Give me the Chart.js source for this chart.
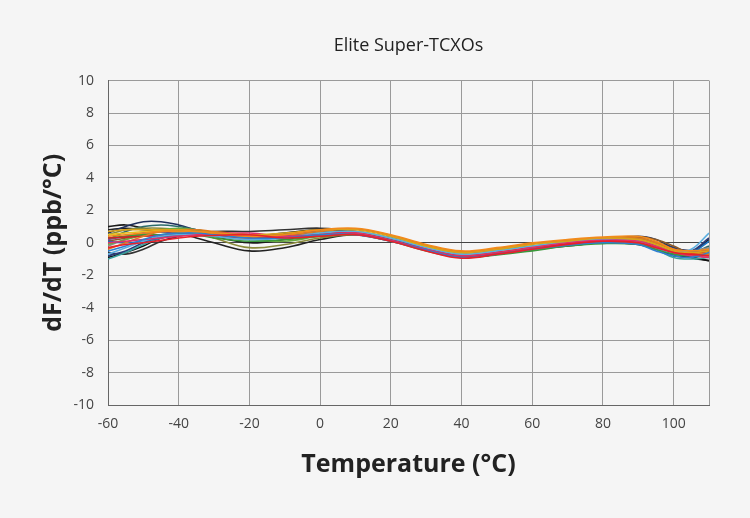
<!DOCTYPE html>
<html>
<head>
<meta charset="utf-8">
<script src="https://cdn.jsdelivr.net/npm/chart.js@4"></script>
<style>
  html, body { margin: 0; padding: 0; background: #f5f5f5; }
  #wrap { width: 750px; height: 518px; }
</style>
</head>
<body>
<div id="wrap"><canvas id="myChart" width="750" height="518"></canvas></div>
<script>
let temps = [-60,-55,-50,-45,-40,-35,-30,-20,-10,0,10,20,30,40,50,60,70,80,90,95,100,105,110];

// dF/dT (ppb/°C), one list per unit
let series = [
  [-0.3,-0.1,0.0,0.15,0.3,0.4,0.45,0.5,0.3,0.4,0.5,0.1,-0.5,-0.95,-0.7,-0.4,-0.1,0.1,0.0,-0.3,-0.6,-0.7,-0.8],
  [0.4,0.5,0.6,0.7,0.7,0.7,0.6,0.4,0.5,0.8,0.9,0.5,-0.1,-0.5,-0.3,0.0,0.2,0.35,0.4,0.1,-0.4,-0.5,-0.4],
  [-0.5,-0.2,0.2,0.5,0.6,0.6,0.5,0.3,0.3,0.5,0.5,0.1,-0.45,-0.9,-0.7,-0.4,-0.15,0.0,-0.1,-0.5,-0.8,-0.9,-0.6],
  [0.7,0.8,0.8,0.8,0.8,0.7,0.6,0.5,0.6,0.8,0.8,0.4,-0.2,-0.6,-0.4,-0.1,0.1,0.3,0.2,-0.1,-0.5,-0.6,-0.5],
  [0.0,0.1,0.2,0.3,0.4,0.5,0.55,0.6,0.4,0.5,0.6,0.15,-0.4,-0.8,-0.6,-0.3,0.0,0.15,0.1,-0.2,-0.6,-0.8,-0.9],
  [-0.7,-0.3,0.1,0.4,0.5,0.5,0.4,0.2,0.3,0.6,0.7,0.3,-0.3,-0.7,-0.5,-0.2,0.05,0.2,0.1,-0.3,-0.6,-0.4,0.6],
  [-0.4,0.0,0.4,0.7,0.8,0.8,0.7,0.5,0.5,0.7,0.85,0.45,-0.15,-0.55,-0.35,-0.05,0.15,0.3,0.3,0.0,-0.4,-0.6,-0.7],
  [0.3,0.35,0.4,0.45,0.5,0.5,0.45,0.3,0.35,0.55,0.6,0.15,-0.45,-0.85,-0.6,-0.3,-0.05,0.1,0.05,-0.25,-0.6,-0.7,-0.5],
  [0.5,0.6,0.7,0.75,0.7,0.6,0.5,0.3,0.35,0.6,0.7,0.3,-0.25,-0.7,-0.5,-0.25,0.05,0.25,0.2,-0.1,-0.45,-0.65,-0.6],
  [0.1,0.0,0.1,0.3,0.5,0.6,0.6,0.5,0.5,0.65,0.65,0.25,-0.35,-0.8,-0.6,-0.3,-0.05,0.15,0.15,-0.15,-0.5,-0.6,0.1],
  [0.3,0.4,0.5,0.5,0.6,0.5,0.3,0.1,0.2,0.4,0.5,0.1,-0.5,-0.9,-0.75,-0.5,-0.2,-0.05,-0.1,-0.4,-0.7,-0.8,-0.6],
  [0.2,0.4,0.6,0.7,0.6,0.5,0.5,0.4,0.45,0.6,0.7,0.3,-0.2,-0.65,-0.5,-0.25,0.05,0.2,0.15,-0.1,-0.45,-0.55,-0.5],
  [-1.0,-0.6,-0.1,0.3,0.5,0.5,0.4,0.3,0.3,0.5,0.6,0.2,-0.4,-0.85,-0.65,-0.35,-0.1,0.1,0.0,-0.4,-0.9,-1.0,-0.9],
  [0.1,0.3,0.6,0.7,0.7,0.6,0.5,0.3,0.3,0.5,0.6,0.2,-0.35,-0.75,-0.55,-0.3,0.0,0.2,0.35,0.2,-0.2,-0.7,-0.8],
  [-0.1,0.2,0.5,0.8,0.9,0.8,0.6,0.2,0.1,0.4,0.55,0.15,-0.45,-0.85,-0.7,-0.45,-0.15,0.05,0.1,-0.15,-0.55,-0.8,-0.7],
  [0.5,0.8,0.9,0.9,0.8,0.6,0.3,-0.3,-0.1,0.3,0.5,0.2,-0.3,-0.6,-0.4,-0.2,0.1,0.25,0.3,0.0,-0.5,-0.7,-0.4],
  [-0.2,0.2,0.5,0.7,0.7,0.6,0.4,0.2,0.4,0.6,0.5,0.1,-0.4,-0.8,-0.6,-0.35,-0.1,0.05,0.0,-0.2,-0.5,-0.5,-0.3],
  [0.2,0.7,1.0,1.1,1.0,0.8,0.6,0.4,0.4,0.6,0.6,0.2,-0.35,-0.7,-0.5,-0.3,0.0,0.2,0.3,0.0,-0.4,-0.6,-0.2],
  [-0.8,-0.5,0.0,0.4,0.6,0.7,0.6,0.4,0.4,0.6,0.6,0.2,-0.4,-0.85,-0.6,-0.3,0.0,0.15,0.25,0.0,-0.3,-0.5,0.3],
  [0.6,1.0,1.3,1.3,1.1,0.8,0.6,0.4,0.5,0.7,0.6,0.3,-0.3,-0.8,-0.6,-0.3,0.0,0.2,0.4,0.2,-0.3,-0.5,-0.4],
  [-0.9,-0.6,-0.2,0.3,0.5,0.6,0.5,0.4,0.6,0.8,0.7,0.3,-0.3,-0.85,-0.6,-0.4,-0.2,0.0,-0.1,-0.4,-0.8,-0.9,-1.1],
  [1.0,1.1,0.9,0.7,0.8,0.7,0.4,0.0,0.2,0.5,0.6,0.2,-0.4,-0.9,-0.7,-0.4,-0.1,0.1,0.0,-0.3,-0.7,-0.6,0.2],
  [0.8,0.9,0.8,0.7,0.6,0.3,0.0,-0.5,-0.3,0.2,0.5,0.2,-0.4,-0.9,-0.7,-0.4,-0.1,0.1,0.2,0.0,-0.3,-0.9,-1.1],
  [-0.6,-0.7,-0.4,0.1,0.4,0.6,0.7,0.7,0.8,0.9,0.7,0.25,-0.35,-0.8,-0.65,-0.35,-0.1,0.1,0.2,0.0,-0.5,-0.75,-0.6]
];

let colors = ['#e8202a','#f28a1c','#2e7fd0','#d9a21a','#e0306a','#5aaee0','#e07a20','#d0202a',
              '#e8c020','#1a70c0','#3a9a3a','#7a4a9a','#3aa0a0','#8a5a2a','#6aaa40','#8a8a3a',
              '#8c8c8c','#2a6b6b','#2a3a7a','#1f2f5a','#111111','#1a1a1a','#222222','#333333'];

let xTicks = [-60,-40,-20,0,20,40,60,80,100,110];
let yTicks = [-10,-8,-6,-4,-2,0,2,4,6,8,10];

let datasets = [];
for (let i = 0; i < series.length; i++) {
  let pts = [];
  for (let j = 0; j < temps.length; j++) {
    pts.push({x: temps[j], y: series[i][j]});
  }
  datasets.push({
    label: 'unit ' + (i + 1),
    data: pts,
    borderColor: colors[i],
    borderWidth: 1.6,
    pointRadius: 0,
    tension: 0.4,
    fill: false
  });
}

let font = "'Open Sans', 'Noto Sans', sans-serif";

var ctx = document.getElementById("myChart").getContext('2d');

var chart = new Chart(ctx, {
  type: 'line',
  data: { datasets: datasets },
  options: {
    responsive: false,
    animation: false,
    layout: { padding: { left: 0, right: 41, top: 0, bottom: 0 } },
    plugins: {
      legend: { display: false },
      tooltip: { enabled: false },
      title: {
        display: true,
        fullSize: false,
        text: 'Elite Super-TCXOs',
        color: '#222',
        font: { family: font, size: 18, weight: 'normal' },
        padding: { top: 35, bottom: 24 }
      }
    },
    scales: {
      x: {
        type: 'linear',
        min: -60,
        max: 110,
        afterBuildTicks: function(scale) {
          scale.ticks = xTicks.map(function(v) { return {value: v}; });
        },
        ticks: {
          color: '#444',
          font: { family: font, size: 14 },
          padding: 11,
          maxRotation: 0,
          autoSkip: false,
          callback: function(v) { return v === 110 ? '' : v; }
        },
        grid: { color: '#9a9a9a', drawTicks: false, lineWidth: 1 },
        border: { color: '#666', width: 1 },
        title: {
          display: true,
          text: 'Temperature (°C)',
          color: '#222',
          font: { family: font, size: 25, weight: 'bold' },
          padding: { top: 0, bottom: 38 }
        },
        afterFit: function(scale) { scale.height = 113; }
      },
      y: {
        min: -10,
        max: 10,
        afterBuildTicks: function(scale) {
          scale.ticks = yTicks.map(function(v) { return {value: v}; });
        },
        ticks: {
          color: '#444',
          font: { family: font, size: 14 },
          padding: 14
        },
        grid: {
          color: function(c) { return c.tick && c.tick.value === 0 ? '#444' : '#9a9a9a'; },
          drawTicks: false,
          lineWidth: 1
        },
        border: { color: '#666', width: 1 },
        title: {
          display: true,
          text: 'dF/dT (ppb/°C)',
          color: '#222',
          font: { family: font, size: 25, weight: 'bold' },
          padding: { top: 39, bottom: 0 }
        },
        afterFit: function(scale) { scale.width = 108; }
      }
    }
  }
});
</script>
</body>
</html>
